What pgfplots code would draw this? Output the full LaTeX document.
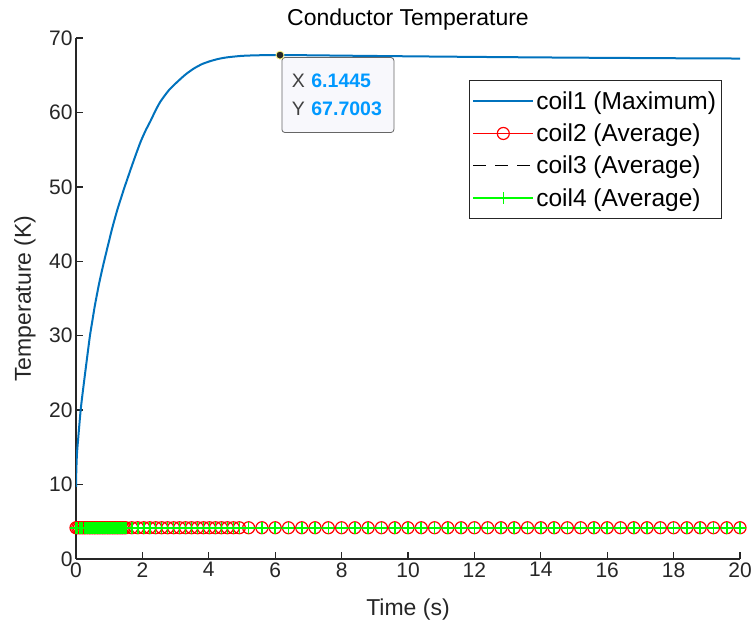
\documentclass[border=0pt]{standalone}
\usepackage{fontspec}
\setmainfont{Liberation Sans}
\usepackage{pgfplots}
\pgfplotsset{compat=1.18}
\usepackage{pgfplotstable}

\definecolor{mblue}{RGB}{0,114,189}
\definecolor{axgray}{RGB}{38,38,38}
\definecolor{tipblue}{RGB}{0,153,255}
\definecolor{tipfill}{RGB}{248,248,252}

% coil1 maximum temperature
\pgfplotstableread{
t T
0 9.7
0.01 12.0
0.03 14.2
0.07 16.4
0.14 20.0
0.2 22.3
0.27 24.8
0.35 27.6
0.42 30.0
0.5 32.2
0.57 34.1
0.7 37.1
0.82 39.5
0.95 41.9
1.1 44.6
1.25 47.0
1.35 48.4
1.45 49.8
1.55 51.1
1.65 52.4
1.8 54.3
1.95 56.1
2.1 57.6
2.25 58.9
2.4 60.3
2.55 61.5
2.8 63.0
3.05 64.1
3.3 65.1
3.55 65.9
3.8 66.5
4.05 66.9
4.3 67.2
4.55 67.4
5.0 67.6
5.5 67.68
6.1445 67.7003
7 67.68
8 67.63
10 67.54
12 67.46
14 67.39
16 67.33
18 67.28
20 67.24
}\coilmax

% coil2-4 average temperature, same time steps
\pgfplotstableread{
t T
0 4.2
0.05 4.2
0.1 4.2
0.15 4.2
0.2 4.2
0.25 4.2
0.3 4.2
0.35 4.2
0.4 4.2
0.45 4.2
0.5 4.2
0.55 4.2
0.6 4.2
0.65 4.2
0.7 4.2
0.75 4.2
0.8 4.2
0.85 4.2
0.9 4.2
0.95 4.2
1.0 4.2
1.05 4.2
1.1 4.2
1.15 4.2
1.2 4.2
1.25 4.2
1.3 4.2
1.35 4.2
1.4 4.2
1.45 4.2
1.5 4.2
1.68 4.2
1.86 4.2
2.04 4.2
2.22 4.2
2.4 4.2
2.58 4.2
2.76 4.2
2.94 4.2
3.12 4.2
3.3 4.2
3.48 4.2
3.66 4.2
3.84 4.2
4.02 4.2
4.2 4.2
4.38 4.2
4.56 4.2
4.74 4.2
4.92 4.2
5.2 4.2
5.6 4.2
6.0 4.2
6.4 4.2
6.8 4.2
7.2 4.2
7.6 4.2
8.0 4.2
8.4 4.2
8.8 4.2
9.2 4.2
9.6 4.2
10.0 4.2
10.4 4.2
10.8 4.2
11.2 4.2
11.6 4.2
12.0 4.2
12.4 4.2
12.8 4.2
13.2 4.2
13.6 4.2
14.0 4.2
14.4 4.2
14.8 4.2
15.2 4.2
15.6 4.2
16.0 4.2
16.4 4.2
16.8 4.2
17.2 4.2
17.6 4.2
18.0 4.2
18.4 4.2
18.8 4.2
19.2 4.2
19.6 4.2
20.0 4.2
}\coilavg

\begin{document}
\begin{tikzpicture}
\path[use as bounding box] (0,0) rectangle (751pt,628pt);
\begin{axis}[
    at={(76pt,69pt)}, anchor=south west,
    scale only axis,
    width=664pt, height=521pt,
    xmin=0, xmax=20, ymin=0, ymax=70,
    xtick={0,2,...,20}, ytick={0,10,...,70},
    axis lines=left,
    axis line style={-, axgray, line width=1.3pt},
    tick align=inside,
    major tick length=7pt,
    tick style={axgray, line width=1.3pt},
    /pgf/number format/assume math mode=true,
    ticklabel style={font=\fontsize{21}{25}\selectfont, text=axgray},
    title={Conductor Temperature},
    title style={font=\fontsize{23}{27}\selectfont, at={(axis description cs:0.5,1.023)}, anchor=center},
    xlabel={Time (s)},
    xlabel style={font=\fontsize{23}{27}\selectfont, text=axgray, at={(axis description cs:0.5,-0.097)}, anchor=center},
    ylabel={Temperature (K)},
    ylabel style={font=\fontsize{23}{27}\selectfont, text=axgray, at={(axis description cs:-0.077,0.5)}, anchor=center},
    legend cell align=left,
    legend image code/.code={\draw[mark repeat=2,mark phase=2,#1] plot coordinates {(0pt,0pt) (30pt,0pt) (60pt,0pt)};},
    legend style={at={(0.972,0.919)}, anchor=north east, draw=axgray, line width=0.8pt, fill=white,
        font=\fontsize{24.5}{28}\selectfont, row sep=9pt, inner xsep=3pt, inner ysep=9pt},
]
\addplot[mblue, line width=2pt, smooth, tension=0.4] table[x=t, y=T] {\coilmax};
\addlegendentry{coil1 (Maximum)}
\addplot[red, line width=1.2pt, mark=o, mark size=6pt, mark options={solid}] table[x=t, y=T] {\coilavg};
\addlegendentry{coil2 (Average)}
\addplot[black, line width=1.2pt, dash pattern=on 13pt off 9pt] table[x=t, y=T] {\coilavg};
\addlegendentry{coil3 (Average)}
\addplot[green, line width=1.6pt, mark=+, mark size=6pt, mark options={solid}] table[x=t, y=T] {\coilavg};
\addlegendentry{coil4 (Average)}

% data tip
\node[anchor=north west, xshift=1.5pt, yshift=-2pt, draw=black!60, fill=tipfill, rounded corners=3pt,
      line width=0.8pt, inner xsep=10pt, text width=92pt, minimum height=75pt, align=left,
      font=\fontsize{19.5}{28}\selectfont, text=black!75]
  at (axis cs:6.1445,67.7003) {X \textbf{\color{tipblue}6.1445}\\Y \textbf{\color{tipblue}67.7003}};
\addplot[forget plot, only marks, mark=*, mark size=4pt, mark options={fill=black!85, draw=yellow!50!white, line width=0.8pt}]
  coordinates {(6.1445,67.7003)};
\end{axis}
\end{tikzpicture}
\end{document}
